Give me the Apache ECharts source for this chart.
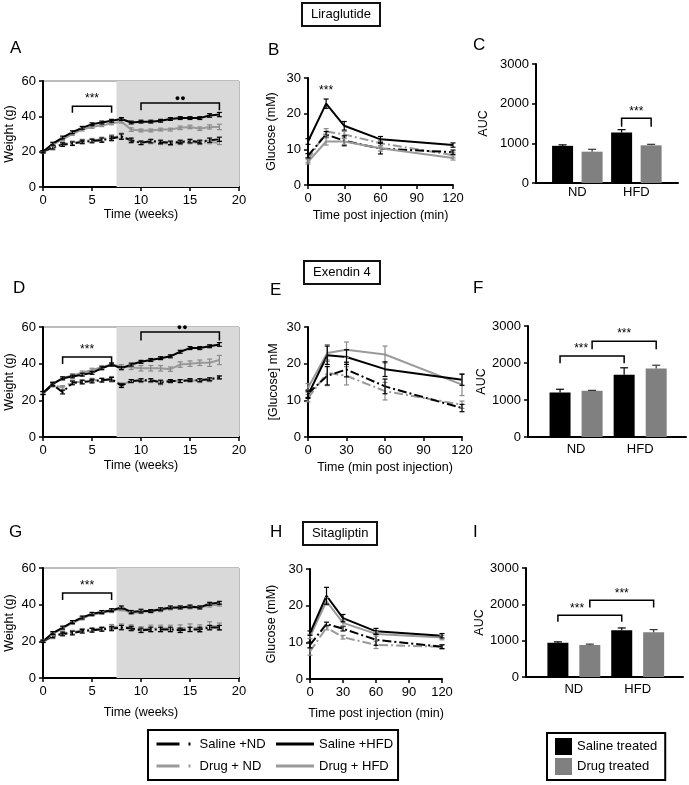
<!DOCTYPE html>
<html><head><meta charset="utf-8">
<script src="https://cdn.jsdelivr.net/npm/echarts@6/dist/echarts.min.js"></script>
<style>html,body{margin:0;padding:0;background:#fff}#c{width:689px;height:785px}</style>
</head><body><div id="c"></div>
<script>
// ---------------- DATA ----------------
const weeks = [0,1,2,3,4,5,6,7,8,9,10,11,12,13,14,15,16,17,18];
const shadeStart = 7.5;               // start of shaded (treatment) period, weeks
const weightTicks = [0,20,40,60];
const glucoseTimes = [0,15,30,60,120];
const barGroups = ['ND','HFD'];

// Panel A – Liraglutide body weight (g)
const A_salND  = [20,22.5,24,24.5,25.5,26,26.5,27.5,28.5,26.5,25,26,25.5,25,25.5,26,25.5,26.5,27];
const A_salND_e= [0.6,1,1,1,1,1,1.2,1.3,1.5,1.2,1,1,1,1,1,1,1,1.2,1.2];
const A_drgND  = [20,22,24.5,25,26,26.5,27,28,29,26,25,25.5,25,24.5,25,25.5,25,25.5,25];
const A_drgND_e= [0.6,1,1,1,1,1,1.2,1.5,1.5,1.2,1,1,1,1,1,1,1,1,1];
const A_salHFD = [20,24.5,28,31,33.5,35.5,36.5,37.5,38.5,36.5,37,37,37.5,38.5,39,39,39,40.5,41];
const A_salHFD_e=[0.6,0.8,0.8,0.8,0.8,0.8,0.8,0.8,0.8,0.8,0.8,0.8,0.8,0.8,0.8,0.8,0.8,1,1.2];
const A_drgHFD = [20,24,27,30,32.5,34,35,36,37,32.5,32,32,32.5,32.5,33.5,34,33,34,34];
const A_drgHFD_e=[0.6,0.8,0.8,0.8,0.8,0.8,0.8,0.8,0.8,1,0.8,0.8,0.8,0.8,1,1,1,1.2,1.5];

// Panel D – Exendin 4 body weight (g)
const D_salND  = [24,28.5,24.5,29.5,30,30.5,31,31.5,28,30.5,31,31,30,30.5,30.5,31,31,31.5,32.5];
const D_salND_e= [0.8,1,1,1,1,1,1,1,1,0.8,0.8,0.8,1,0.8,0.8,0.8,0.8,0.8,0.8];
const D_drgND  = [24,28.5,27,30,30,31,31,31.5,28.5,30.5,30.5,30.5,29.5,30.5,30.5,31,30.5,31,32.5];
const D_drgND_e= [0.8,1,1,1,1,1,1,1.5,1,0.8,0.8,0.8,1,0.8,0.8,0.8,0.8,0.8,0.8];
const D_salHFD = [24,29,32,33,34,35,37.5,39.5,37.5,39.5,41,42,43,44,46.5,48.5,48.5,49.5,50.5];
const D_salHFD_e=[0.8,0.8,0.8,0.8,0.8,0.8,0.8,0.8,0.8,0.8,0.8,0.8,0.8,0.8,0.8,0.8,0.8,0.8,1];
const D_drgHFD = [24,29,32,33.5,35,36.5,38,39.5,38.5,38,37.5,37.5,37.5,37,39.5,40,40.5,40.5,42];
const D_drgHFD_e=[0.8,1,0.8,1,1,1,1,1,1,1.2,1.5,1.5,1.5,1.2,1.5,1.5,1.5,2,2.5];

// Panel G – Sitagliptin body weight (g)
const G_salND  = [20,23,24,24.5,25.5,26,26.5,27,27.5,27,26,26.5,26.5,26.5,26,26.5,26.5,27.5,27.5];
const G_salND_e= [0.6,1,1,1,1,1,1,1.2,1.2,1.2,1.2,1.2,1.2,1.2,1.2,1.2,1.2,1.2,1.2];
const G_drgND  = [20,22.5,24.5,25,26,26.5,27,28,28,27.5,26.5,27,27,27,27,27.5,27,28.5,28];
const G_drgND_e= [0.6,1,1,1,1,1,1,1.2,1.5,1.5,1.5,1.8,1.8,1.8,2,2,2,2.2,2];
const G_salHFD = [20,24.5,27.5,30.5,33,35,36,37,38.5,36,36.5,36.5,37.5,38.5,38.5,39,38.5,40.5,41];
const G_salHFD_e=[0.6,0.8,0.8,0.8,0.8,0.8,0.8,0.8,0.8,0.8,1,0.8,0.8,0.8,0.8,0.8,0.8,0.8,0.8];
const G_drgHFD = [20,24,27,30,32.5,34.5,35.5,36.5,37.5,35.5,36,36.5,37,38,38.5,38.5,38.5,39.5,40];
const G_drgHFD_e=[0.6,0.8,0.8,0.8,0.8,0.8,0.8,0.8,0.8,0.8,0.8,0.8,0.8,0.8,0.8,0.8,0.8,0.8,0.8];

// Panel B – Liraglutide glucose (mM)
const B_salND  = [8.2,14.2,12.4,10.2,9.2];   const B_salND_e  = [0.6,0.8,1.4,1.5,0.6];
const B_drgND  = [7,15,14.2,11.7,8.4];       const B_drgND_e  = [0.6,0.8,0.8,0.8,0.8];
const B_salHFD = [12.2,22.8,16.6,12.8,11.2]; const B_salHFD_e = [0.8,1.3,1.2,0.8,0.6];
const B_drgHFD = [6.5,12.2,12.2,10.3,7.6];   const B_drgHFD_e = [0.6,1,0.8,0.8,0.6];

// Panel E – Exendin 4 glucose (mM)
const E_salND  = [11.8,16.7,18.4,13.8,7.9];  const E_salND_e  = [1,2.5,2,2,1];
const E_drgND  = [10.6,17.5,16.7,12.5,8.8];  const E_drgND_e  = [1,3.5,2.5,2.4,1];
const E_salHFD = [11.5,22.3,21.8,18.5,15.6]; const E_salHFD_e = [1,2.5,2,2,1.5];
const E_drgHFD = [13.4,22.9,23.8,22.5,14.3]; const E_drgHFD_e = [1.2,2.3,2.1,2.3,3];

// Panel H – Sitagliptin glucose (mM)
const H_salND  = [9.3,15,13.7,10.7,8.8];     const H_salND_e  = [0.8,0.5,0.6,1.5,0.5];
const H_drgND  = [7.5,14,11.4,9.3,8.8];      const H_drgND_e  = [1,0.6,0.5,1,0.6];
const H_salHFD = [12.5,22.7,16.6,13,11.8];   const H_salHFD_e = [0.6,2.3,1,0.8,0.6];
const H_drgHFD = [11.6,21.2,15.3,12.3,11.3]; const H_drgHFD_e = [0.6,1,0.8,0.6,0.6];

// AUC bars (ND, HFD)
const C_saline = [937,1275];  const C_saline_e = [25,70];
const C_drug   = [790,950];   const C_drug_e   = [60,25];
const F_saline = [1200,1680]; const F_saline_e = [90,190];
const F_drug   = [1250,1850]; const F_drug_e   = [10,90];
const I_saline = [942,1290];  const I_saline_e = [25,60];
const I_drug   = [880,1230];  const I_drug_e   = [25,75];

// significance brackets: [x1, x2, yTop, yEnd, label, labelX]
const A_sig = [[3,7,45.75,42,'***',5],[10,18,47.6,43.5,'●●',14]];
const D_sig = [[2,7,43.6,39.8,'***',4.5],[10,18,57.3,52.7,'●●',14.2]];
const G_sig = [[2,7,46.3,42.6,'***',4.5]];
const B_sig = [[15,15,24.6,24.6,'***',15]];
const C_sig = [[3,4,1630,1420,'***',3.5]];
const F_sig = [[1,3,2190,1990,'***',1.66],[2,4,2590,2370,'***',3.0]];
const I_sig = [[1,3,1700,1520,'***',1.6],[2,4,2110,1910,'***',3.0]];

// ---------------- STYLE ----------------
const FONT = "'Liberation Sans', Arial, sans-serif";
const BLACK = '#000', GREY = '#9a9a9a', BARGREY = '#808080';
const DASHDOT = [9,3,2,3];
const styleOf = {
  'Saline +ND':  {color:BLACK, type:DASHDOT, err:'#000'},
  'Saline +HFD': {color:BLACK, type:'solid', err:'#000'},
  'Drug + ND':   {color:GREY,  type:DASHDOT, err:'#8a8a8a'},
  'Drug + HFD':  {color:GREY,  type:'solid', err:'#8a8a8a'}
};

const grids = [
  {left:43,  top:81,  width:196, height:106}, // A
  {left:308, top:78,  width:145, height:107}, // B
  {left:536, top:64,  width:142, height:119}, // C
  {left:43,  top:327, width:196, height:110}, // D
  {left:308, top:327, width:154, height:110}, // E
  {left:528, top:326, width:158, height:111}, // F
  {left:43,  top:568, width:196, height:110}, // G
  {left:310, top:569, width:132, height:110}, // H
  {left:526, top:568, width:157, height:109}  // I
];
[0,3,6].forEach(i => Object.assign(grids[i], {show:true, borderColor:'#7a7a7a', borderWidth:1, backgroundColor:'transparent'}));

function merge(a, b) {
  const out = Object.assign({}, a);
  for (const k in b) {
    if (b[k] && typeof b[k] === 'object' && !Array.isArray(b[k]) && typeof b[k] !== 'function' && a[k] && typeof a[k] === 'object') out[k] = merge(a[k], b[k]);
    else out[k] = b[k];
  }
  return out;
}
function axisBase() {
  return {
    type:'value', nameLocation:'middle',
    axisLine:{show:true, onZero:false, lineStyle:{color:'#000', width:2}},
    axisTick:{show:true, inside:false, length:4, lineStyle:{color:'#000', width:1.5}},
    axisLabel:{color:'#000', fontSize:13, fontFamily:FONT, margin:7, formatter: v => String(v)},
    splitLine:{show:false},
    nameTextStyle:{color:'#000', fontSize:12.5, fontFamily:FONT}
  };
}
const xAxes = [], yAxes = [], series = [];
function addAxes(gi, xo, yo) {
  xAxes.push(merge(axisBase(), Object.assign({gridIndex:gi}, xo)));
  yAxes.push(merge(axisBase(), Object.assign({gridIndex:gi}, yo)));
}

function errRender(color, cap, upOnly) {
  return function (params, api) {
    const x = api.value(0), lo = api.value(1), hi = api.value(2);
    const a = api.coord([x, lo]), b = api.coord([x, hi]);
    const st = {stroke:color, lineWidth:1.2};
    const kids = [
      {type:'line', shape:{x1:a[0], y1:a[1], x2:b[0], y2:b[1]}, style:st},
      {type:'line', shape:{x1:b[0]-cap, y1:b[1], x2:b[0]+cap, y2:b[1]}, style:st}
    ];
    if (!upOnly) kids.push({type:'line', shape:{x1:a[0]-cap, y1:a[1], x2:a[0]+cap, y2:a[1]}, style:st});
    return {type:'group', children:kids};
  };
}
function linePanel(gi, xs, sets) {
  sets.forEach(([name, vals, errs]) => {
    const s = styleOf[name];
    series.push({name, type:'line', xAxisIndex:gi, yAxisIndex:gi, symbol:'none', animation:false, z:3,
      data: xs.map((x,i)=>[x, vals[i]]),
      lineStyle:{color:s.color, width:2, type:s.type}, itemStyle:{color:s.color}});
    series.push({type:'custom', xAxisIndex:gi, yAxisIndex:gi, silent:true, animation:false, z:4,
      data: xs.map((x,i)=>[x, vals[i]-errs[i], vals[i]+errs[i]]), encode:{x:0, y:[1,2]},
      renderItem: errRender(s.err, 2.5, false)});
  });
}
function sigPanel(gi, list, fs) {
  series.push({type:'custom', xAxisIndex:gi, yAxisIndex:gi, silent:true, animation:false, z:5,
    data: list.map(b => [b[0], b[2]]), encode:{x:0, y:1},
    renderItem: (p, api) => {
      const [x1, x2, y, yd, txt, lx] = list[p.dataIndex];
      const L = api.coord([x1, yd]), T1 = api.coord([x1, y]), T2 = api.coord([x2, y]), R = api.coord([x2, yd]);
      const LP = api.coord([lx, y]);
      const kids = [];
      if (x1 !== x2) kids.push({type:'polyline', shape:{points:[L, T1, T2, R]}, style:{stroke:'#000', lineWidth:1.5, fill:null}});
      const dots = txt.indexOf('●') >= 0;
      kids.push({type:'text', style:{text:txt, x:LP[0], y: dots ? LP[1]-4 : LP[1]-1,
        align:'center', verticalAlign: dots ? 'middle' : 'bottom', fontSize: dots ? 9 : fs, fontFamily:FONT, fill:'#000'}});
      return {type:'group', children:kids};
    }});
}
function barPanel(gi, sal, salE, drg, drgE) {
  series.push({name:'Saline treated', type:'bar', xAxisIndex:gi, yAxisIndex:gi, animation:false, barWidth:21, barGap:'-100%',
    data: sal.map((v,g)=>[1+2*g, v]), itemStyle:{color:BLACK}});
  series.push({name:'Drug treated', type:'bar', xAxisIndex:gi, yAxisIndex:gi, animation:false, barWidth:21, barGap:'-100%',
    data: drg.map((v,g)=>[2+2*g, v]), itemStyle:{color:BARGREY}});
  series.push({type:'custom', xAxisIndex:gi, yAxisIndex:gi, silent:true, animation:false, z:4,
    data: sal.map((v,g)=>[1+2*g, v, v+salE[g]]), encode:{x:0, y:[1,2]}, renderItem: errRender('#000', 4, true)});
  series.push({type:'custom', xAxisIndex:gi, yAxisIndex:gi, silent:true, animation:false, z:4,
    data: drg.map((v,g)=>[2+2*g, v, v+drgE[g]]), encode:{x:0, y:[1,2]}, renderItem: errRender('#333', 4, true)});
}
function shade(gi) {
  series.push({type:'line', xAxisIndex:gi, yAxisIndex:gi, data:[], silent:true, z:1, animation:false,
    markArea:{silent:true, itemStyle:{color:'#d9d9d9'},
      data:[[{xAxis:shadeStart, yAxis:weightTicks[0]}, {xAxis:20, yAxis:weightTicks[weightTicks.length-1]}]]}});
}

// ---- axes
const weightX = {min:0, max:20, interval:5, name:'Time (weeks)'};
const weightY = {min:weightTicks[0], max:weightTicks[weightTicks.length-1], interval:20, name:'Weight (g)', nameGap:27};
const barX = (mn, mx, mg) => ({min:mn, max:mx, axisTick:{show:false},
  axisLabel:{customValues:[1.5,3.5], margin:mg, formatter: v => barGroups[Math.round((v-1.5)/2)]}});
const barY = gap => ({min:0, max:3000, interval:1000, name:'AUC', nameGap:gap});
addAxes(0, Object.assign({}, weightX, {nameGap:21}), weightY);
addAxes(1, {min:0, max:120, interval:30, name:'Time post injection (min)', nameGap:24},
           {min:0, max:30, interval:10, name:'Glucose (mM)', nameGap:30});
addAxes(2, barX(0.1, 4.91, 3), barY(46));
addAxes(3, Object.assign({}, weightX, {nameGap:22}), weightY);
addAxes(4, {min:0, max:120, interval:30, name:'Time (min post injection)', nameGap:24},
           {min:0, max:30, interval:10, name:'[Glucose] mM', nameGap:28});
addAxes(5, barX(0, 4.93, 6), barY(38));
addAxes(6, Object.assign({}, weightX, {nameGap:28}), weightY);
addAxes(7, {min:0, max:120, interval:30, name:'Time post injection (min)', nameGap:28},
           {min:0, max:30, interval:10, name:'Glucose (mM)', nameGap:32});
addAxes(8, barX(0, 4.92, 6), barY(39));

shade(0); shade(3); shade(6);
linePanel(0, weeks, [['Drug + ND',A_drgND,A_drgND_e],['Saline +ND',A_salND,A_salND_e],['Drug + HFD',A_drgHFD,A_drgHFD_e],['Saline +HFD',A_salHFD,A_salHFD_e]]);
linePanel(3, weeks, [['Drug + ND',D_drgND,D_drgND_e],['Saline +ND',D_salND,D_salND_e],['Drug + HFD',D_drgHFD,D_drgHFD_e],['Saline +HFD',D_salHFD,D_salHFD_e]]);
linePanel(6, weeks, [['Drug + ND',G_drgND,G_drgND_e],['Saline +ND',G_salND,G_salND_e],['Drug + HFD',G_drgHFD,G_drgHFD_e],['Saline +HFD',G_salHFD,G_salHFD_e]]);
linePanel(1, glucoseTimes, [['Drug + ND',B_drgND,B_drgND_e],['Saline +ND',B_salND,B_salND_e],['Drug + HFD',B_drgHFD,B_drgHFD_e],['Saline +HFD',B_salHFD,B_salHFD_e]]);
linePanel(4, glucoseTimes, [['Drug + ND',E_drgND,E_drgND_e],['Saline +ND',E_salND,E_salND_e],['Drug + HFD',E_drgHFD,E_drgHFD_e],['Saline +HFD',E_salHFD,E_salHFD_e]]);
linePanel(7, glucoseTimes, [['Drug + ND',H_drgND,H_drgND_e],['Saline +ND',H_salND,H_salND_e],['Drug + HFD',H_drgHFD,H_drgHFD_e],['Saline +HFD',H_salHFD,H_salHFD_e]]);
barPanel(2, C_saline, C_saline_e, C_drug, C_drug_e);
barPanel(5, F_saline, F_saline_e, F_drug, F_drug_e);
barPanel(8, I_saline, I_saline_e, I_drug, I_drug_e);
sigPanel(0, A_sig, 12); sigPanel(3, D_sig, 12); sigPanel(6, G_sig, 12);
sigPanel(1, B_sig, 12); sigPanel(2, C_sig, 12); sigPanel(5, F_sig, 12); sigPanel(8, I_sig, 12);

const letter = (t, l, tp) => ({text:t, left:l, top:tp, padding:0, textStyle:{fontSize:17, fontWeight:'normal', color:'#000', fontFamily:FONT}});
const boxTitle = (t, l, tp) => ({text:t, left:l, top:tp, padding:[5,9], borderColor:'#111', borderWidth:2,
  textStyle:{fontSize:13, fontWeight:'normal', color:'#000', fontFamily:FONT}});
const hideSym = {color:'rgba(0,0,0,0)', borderWidth:0, opacity:0};

const option = {
  backgroundColor:'#fff',
  animation:false,
  textStyle:{fontFamily:FONT},
  title:[
    boxTitle('Liraglutide', 302, 3), boxTitle('Exendin 4', 304, 261), boxTitle('Sitagliptin', 303, 522),
    letter('A',10,40), letter('B',268,42), letter('C',473,37),
    letter('D',13,280), letter('E',270,282), letter('F',473,280),
    letter('G',9,524), letter('H',270,524), letter('I',473,524)
  ],
  legend:[
    {data:[{name:'Saline +ND', lineStyle:{type:[23,9,2,10], width:3}, itemStyle:hideSym},
           {name:'Saline +HFD', lineStyle:{width:3}, itemStyle:hideSym},
           {name:'Drug + ND', lineStyle:{type:[23,9,2,10], width:3}, itemStyle:hideSym},
           {name:'Drug + HFD', lineStyle:{width:3}, itemStyle:hideSym}],
     left:148, top:730, orient:'horizontal', width:240, padding:[6,5,6,7], itemWidth:38, itemHeight:12, itemGap:6,
     borderColor:'#000', borderWidth:2, selectedMode:false,
     textStyle:{fontSize:13, width:69, lineHeight:16, color:'#000', fontFamily:FONT}},
    {data:['Saline treated','Drug treated'], left:547, top:733, orient:'vertical', padding:[5,8,5,8],
     itemWidth:17, itemHeight:17, itemGap:3, icon:'rect', borderColor:'#000', borderWidth:2, selectedMode:false,
     textStyle:{fontSize:13, color:'#000', fontFamily:FONT}}
  ],
  grid: grids,
  xAxis: xAxes,
  yAxis: yAxes,
  series: series
};
const chart = echarts.init(document.getElementById('c'), null, {renderer:'canvas'});
chart.setOption(option);
</script></body></html>
